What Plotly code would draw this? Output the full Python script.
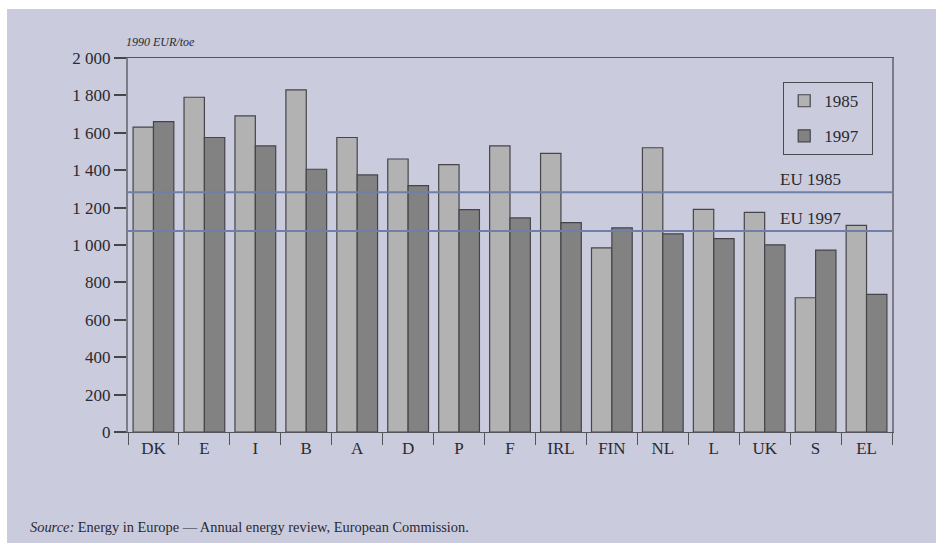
import plotly.graph_objects as go

# Energy prices by country, 1990 EUR per tonne of oil equivalent
countries = ["DK", "E", "I", "B", "A", "D", "P", "F", "IRL", "FIN", "NL", "L", "UK", "S", "EL"]
price_1985 = [1630, 1790, 1690, 1830, 1575, 1460, 1430, 1530, 1490, 985, 1520, 1190, 1175, 718, 1105]
price_1997 = [1660, 1575, 1530, 1405, 1375, 1317, 1189, 1145, 1120, 1092, 1060, 1034, 1001, 973, 736]
eu_avg = {"EU 1985": 1282, "EU 1997": 1075}
y_ticks = list(range(0, 2001, 200))

W, H = 936, 546
ML, MR, MT, MB = 128, 44, 58, 114
PW, PH = W - ML - MR, H - MT - MB

BG = "#cbcbde"
SERIF = "Liberation Serif, Times New Roman, serif"
INK = "#2a2a30"


def px_x(px):
    return (px - ML) / PW


def px_y(py):
    return (H - MB - py) / PH


fig = go.Figure()
fig.add_trace(go.Bar(x=countries, y=price_1985, name="1985  ", legendgroup="a",
                     marker=dict(color="#b2b2b2", line=dict(color="#45454a", width=1.2))))
fig.add_trace(go.Bar(x=countries, y=price_1997, name="1997  ", legendgroup="b",
                     marker=dict(color="#828282", line=dict(color="#45454a", width=1.2))))

shapes = []
annotations = []
for label, val in eu_avg.items():
    shapes.append(dict(type="line", xref="paper", x0=0, x1=1, yref="y", y0=val, y1=val,
                       line=dict(color="#6e80a8", width=2), layer="above"))
    annotations.append(dict(text=label, xref="paper", x=px_x(810), yref="y", y=val,
                            yanchor="bottom", xanchor="center", yshift=1, showarrow=False,
                            font=dict(family=SERIF, size=17, color=INK)))

# white frame around the coloured panel
for x0, x1, y0, y1 in [(0, 7, 0, H), (0, W, 0, 9), (0, W, 543, H)]:
    shapes.append(dict(type="rect", xref="paper", yref="paper",
                       x0=px_x(x0), x1=px_x(x1), y0=px_y(y1), y1=px_y(y0),
                       fillcolor="white", line=dict(width=0), layer="above"))

annotations.append(dict(text="<i>1990 EUR/toe</i>", xref="paper", yref="paper",
                        x=px_x(124), y=px_y(42), xanchor="left", yanchor="middle",
                        showarrow=False, font=dict(family=SERIF, size=12, color=INK)))
annotations.append(dict(text="<i>Source:</i> Energy in Europe — Annual energy review, European Commission.",
                        xref="paper", yref="paper", x=px_x(28), y=px_y(527),
                        xanchor="left", yanchor="middle", showarrow=False,
                        font=dict(family=SERIF, size=14.4, color=INK)))

fig.update_layout(
    width=W, height=H,
    margin=dict(l=ML, r=MR, t=MT, b=MB, pad=0),
    paper_bgcolor=BG, plot_bgcolor=BG,
    barmode="group", bargap=0.2, bargroupgap=0,
    separators=". ",
    font=dict(family=SERIF, size=16, color=INK),
    legend=dict(x=px_x(783), y=px_y(82), xanchor="left", yanchor="top",
                bgcolor="rgba(0,0,0,0)", bordercolor="#4a4a50", borderwidth=1.2,
                font=dict(family=SERIF, size=17, color=INK),
                tracegroupgap=10, traceorder="grouped"),
    shapes=shapes, annotations=annotations,
)
fig.update_xaxes(type="category", showgrid=False, showline=True, linecolor="#55555c",
                 linewidth=1.2, mirror=True, ticks="outside", tickson="boundaries",
                 ticklen=12, tickcolor="#55555c", tickwidth=1.2,
                 tickfont=dict(family=SERIF, size=17, color=INK))
fig.update_yaxes(range=[0, 2000], tickvals=y_ticks, tickformat=",d", showgrid=False,
                 zeroline=False, showline=True, linecolor="#7c7c88", linewidth=2,
                 mirror=True, ticks="outside", ticklen=12, tickcolor="#45454a",
                 tickwidth=1.5, tickfont=dict(family=SERIF, size=17, color=INK))

fig.write_html("out.html")
